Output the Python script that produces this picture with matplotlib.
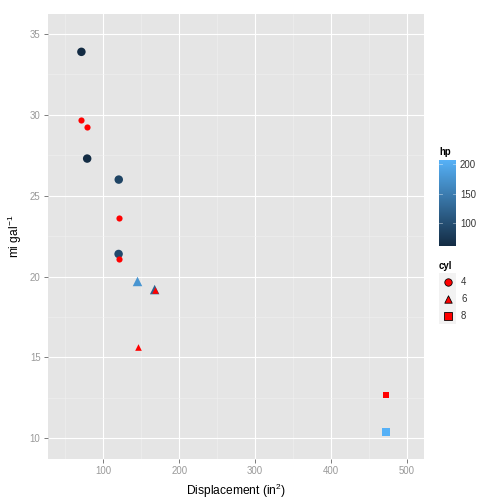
import matplotlib
matplotlib.use("Agg")
import matplotlib.pyplot as plt
import numpy as np
from matplotlib.colors import LinearSegmentedColormap, Normalize
from matplotlib.colorbar import ColorbarBase

plt.rcParams["font.family"] = ["Liberation Sans", "DejaVu Sans"]
plt.rcParams["mathtext.fontset"] = "custom"
plt.rcParams["mathtext.rm"] = "Liberation Sans"
plt.rcParams["mathtext.it"] = "Liberation Sans"

# big points, coloured by hp
disp = np.array([71.1, 78.7, 120.3, 120.1, 145.0, 167.6, 472.0])
mpg = np.array([33.9, 27.3, 26.0, 21.4, 19.7, 19.2, 10.4])
hp = np.array([65, 66, 91, 97, 175, 123, 205])
cyl = np.array([4, 4, 4, 4, 6, 6, 8])

# small red points
disp2 = np.array([71.1, 78.7, 120.3, 120.1, 145.0, 167.6, 472.0])
mpg2 = np.array([29.7, 29.25, 23.6, 21.1, 15.65, 19.15, 12.65])
cyl2 = np.array([4, 4, 4, 4, 6, 6, 8])

cyl_levels = [4, 6, 8]
markers = {4: "o", 6: "^", 8: "s"}
big_size = {4: 72, 6: 90, 8: 62}
small_size = {4: 38, 6: 44, 8: 34}

cmap = LinearSegmentedColormap.from_list("gg", ["#132B43", "#56B1F7"])
norm = Normalize(vmin=65, vmax=205)

grey = "#7F7F7F"
fig = plt.figure(figsize=(7, 7), dpi=72)
ax = fig.add_axes([48/504, 1-458.7/504, 376/504, 444.7/504])
ax.set_facecolor("#E5E5E5")

for c in cyl_levels:
    m = cyl == c
    ax.scatter(disp[m], mpg[m], c=hp[m], cmap=cmap, norm=norm,
               marker=markers[c], s=big_size[c], linewidths=0, zorder=3)
for c in cyl_levels:
    m = cyl2 == c
    ax.scatter(disp2[m], mpg2[m], color="red", marker=markers[c],
               s=small_size[c], linewidths=0, zorder=4)

ax.set_xlim(27.1, 522.4)
ax.set_ylim(8.74, 36.24)
ax.set_xticks([100, 200, 300, 400, 500])
ax.set_yticks([10, 15, 20, 25, 30, 35])
ax.set_xticks([50, 150, 250, 350, 450], minor=True)
ax.set_yticks([12.5, 17.5, 22.5, 27.5, 32.5], minor=True)
ax.grid(which="major", color="white", linewidth=1.1)
ax.grid(which="minor", color="#F2F2F2", linewidth=0.5)
ax.set_axisbelow(True)
for s in ax.spines.values():
    s.set_visible(False)
ax.tick_params(which="major", colors=grey, labelsize=9.6, length=4, width=1, labelcolor="#999999")
ax.tick_params(which="minor", length=0)
ax.set_xlabel("Displacement (in$^2$)", fontsize=12, labelpad=6)
ax.set_ylabel("mi gal$^{-1}$", fontsize=12, labelpad=6)

# colour bar legend
fig.text(439/504, 1-152/504, "hp", fontsize=9.6, fontweight="bold", va="center")
cax = fig.add_axes([439/504, 1-246/504, 17/504, 86/504])
cb = ColorbarBase(cax, cmap=cmap, norm=Normalize(61.5, 207.3), ticks=[100, 150, 200])
cb.outline.set_visible(False)
cax.tick_params(length=0, labelsize=9.6, pad=4, labelcolor="#333333")
for t in [100, 150, 200]:
    cax.axhline(t, xmin=0, xmax=0.2, color="white", alpha=0.5, lw=0.8)
    cax.axhline(t, xmin=0.8, xmax=1, color="white", alpha=0.5, lw=0.8)

# shape legend
fig.text(439/504, 1-266/504, "cyl", fontsize=9.6, fontweight="bold", va="center")
for i, c in enumerate(cyl_levels):
    yc = 281.7 + 17*i
    kax = fig.add_axes([439/504, 1-(yc+8.5)/504, 17/504, 17/504])
    kax.set_facecolor("#F2F2F2")
    kax.set_xlim(0, 1)
    kax.set_ylim(0, 1)
    kax.set_xticks([])
    kax.set_yticks([])
    for s in kax.spines.values():
        s.set_visible(False)
    kax.scatter([0.5], [0.5], color="red", marker=markers[c], s=55,
                edgecolors="black", linewidths=0.8)
    fig.text(461/504, 1-yc/504, str(c), fontsize=9.6, va="center", color="#333333")

fig.savefig("out.png", dpi=72)
